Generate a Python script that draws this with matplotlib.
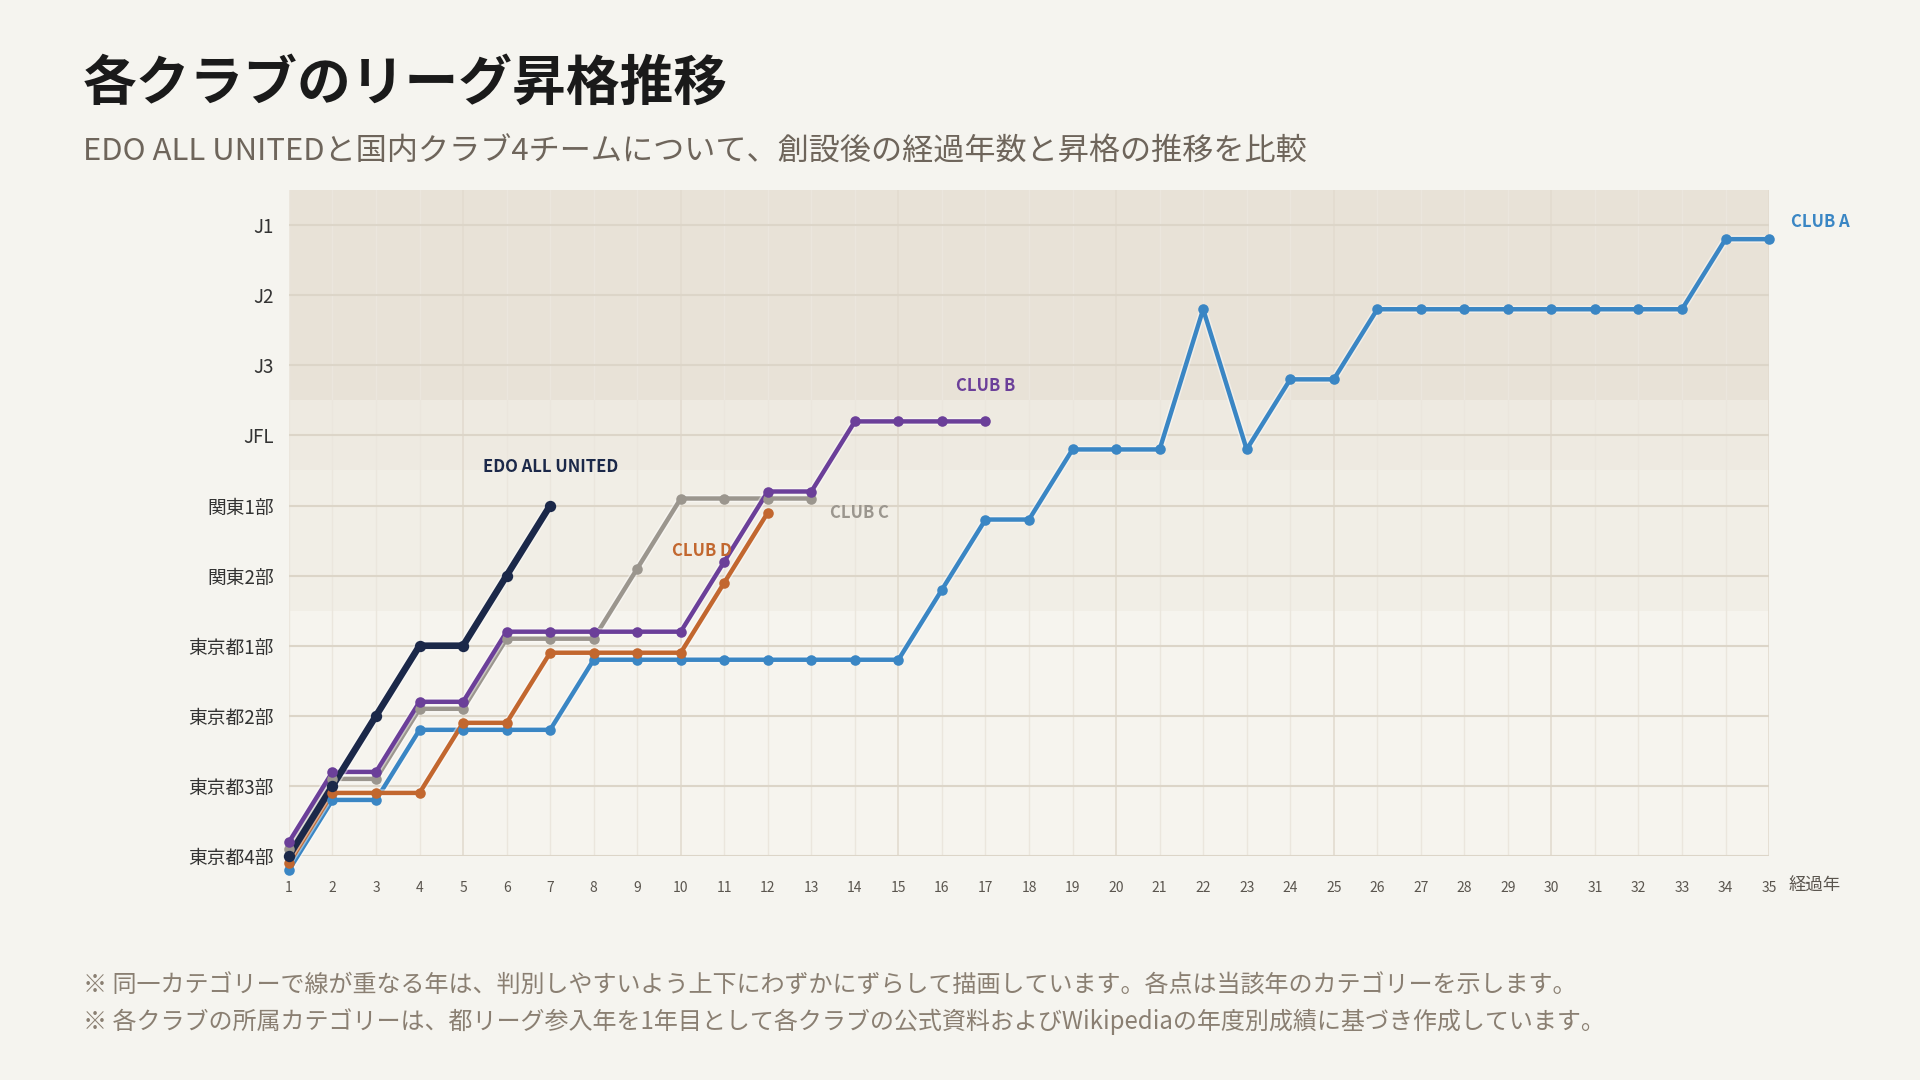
import matplotlib
matplotlib.use("Agg")
import matplotlib.pyplot as plt
import matplotlib.patheffects as pe
import numpy as np

plt.rcParams['font.family'] = ['Noto Sans CJK JP', 'DejaVu Sans']

# ---------------- data ----------------
level_labels = ["東京都4部", "東京都3部", "東京都2部", "東京都1部", "関東2部",
                "関東1部", "JFL", "J3", "J2", "J1"]
x_ticks = list(range(1, 36))

club_a = [0, 1, 1, 2, 2, 2, 2, 3, 3, 3, 3, 3, 3, 3, 3, 4, 5, 5, 6, 6, 6, 8, 6,
          7, 7, 8, 8, 8, 8, 8, 8, 8, 8, 9, 9]
club_b = [0, 1, 1, 2, 2, 3, 3, 3, 3, 3, 4, 5, 5, 6, 6, 6, 6]
club_c = [0, 1, 1, 2, 2, 3, 3, 3, 4, 5, 5, 5, 5]
club_d = [0, 1, 1, 1, 2, 2, 3, 3, 3, 3, 4, 5]
edo = [0, 1, 2, 3, 3, 4, 5]

series_names = ["CLUB A", "CLUB D", "CLUB C", "CLUB B", "EDO ALL UNITED"]
series_values = [club_a, club_d, club_c, club_b, edo]

# ---------------- styles ----------------
offsets = {"CLUB A": -0.2, "CLUB D": -0.1, "CLUB C": 0.1, "CLUB B": 0.2, "EDO ALL UNITED": 0.0}
colors = {"CLUB A": "#3a86c4", "CLUB D": "#c2672f", "CLUB C": "#9b968e",
          "CLUB B": "#6b3f99", "EDO ALL UNITED": "#1b2849"}
widths = {"CLUB A": 3.2, "CLUB D": 3.2, "CLUB C": 3.2, "CLUB B": 3.2, "EDO ALL UNITED": 4.8}
label_pos = {"CLUB A": (35.5, 9.05, "left"), "CLUB B": (17.0, 6.7, "center"),
             "CLUB C": (13.42, 4.9, "left"), "CLUB D": (10.49, 4.35, "center"),
             "EDO ALL UNITED": (7.0, 5.55, "center")}

bg = "#f5f4ef"
fig = plt.figure(figsize=(19.2, 10.8), dpi=100, facecolor=bg)
ax = fig.add_axes([0.1505, 0.2074, 0.7709, 0.6166])
ax.set_facecolor(bg)

# bands
ax.axhspan(0, 3.5, color="#f6f4ee", zorder=0, lw=0)
ax.axhspan(3.5, 5.5, color="#f1eee6", zorder=0, lw=0)
ax.axhspan(5.5, 6.5, color="#eeeae1", zorder=0, lw=0)
ax.axhspan(6.5, 9.5, color="#e8e2d7", zorder=0, lw=0)

# grid
for x in x_ticks:
    major = (x % 5 == 0)
    ax.axvline(x, color="#e2dbcf" if major else "#ebe6dd", lw=1.2 if major else 1.0, zorder=1)
for y in range(len(level_labels)):
    ax.axhline(y, color="#dcd5c8", lw=1.5, zorder=1)

for name, vals in zip(series_names, series_values):
    xs = np.arange(1, len(vals) + 1)
    ys = np.array(vals, dtype=float) + offsets[name]
    lw = widths[name]
    ax.plot(xs, ys, color=colors[name], lw=lw, zorder=3, clip_on=False,
            solid_joinstyle="round", solid_capstyle="round",
            path_effects=[pe.Stroke(linewidth=lw + 2.2, foreground="white", alpha=0.45), pe.Normal()])
    ax.plot(xs, ys, color=colors[name], lw=0, marker="o",
            markersize=7.6 if name != "EDO ALL UNITED" else 8.2,
            markeredgewidth=0, zorder=4, clip_on=False)
    lx, ly, ha = label_pos[name]
    ax.text(lx, ly, name, color=colors[name], fontsize=12, fontweight="bold",
            ha=ha, va="center", zorder=5)

ax.set_xlim(1, 35)
ax.set_ylim(0, 9.5)
ax.set_xticks(x_ticks)
ax.set_xticklabels([str(x) for x in x_ticks], fontsize=10, color="#5a554e")
ax.set_yticks(range(len(level_labels)))
ax.set_yticklabels(level_labels, fontsize=13.5, color="#333333")
ax.tick_params(axis="both", length=0)
ax.tick_params(axis="x", pad=18)
ax.tick_params(axis="y", pad=11)
for s in ax.spines.values():
    s.set_visible(False)

ax.text(35.45, -0.42, "経過年", fontsize=12.5, color="#5a554e", ha="left", va="center")

fig.text(0.0432, 0.922, "各クラブのリーグ昇格推移", fontsize=38.7, fontweight="bold",
         color="#1a1a1a", ha="left", va="center")
fig.text(0.0432, 0.859, "EDO ALL UNITEDと国内クラブ4チームについて、創設後の経過年数と昇格の推移を比較",
         fontsize=22.4, color="#6e655b", ha="left", va="center")
fig.text(0.0432, 0.087, "※ 同一カテゴリーで線が重なる年は、判別しやすいよう上下にわずかにずらして描画しています。各点は当該年のカテゴリーを示します。",
         fontsize=17.3, color="#8a7f72", ha="left", va="center")
fig.text(0.0432, 0.054, "※ 各クラブの所属カテゴリーは、都リーグ参入年を1年目として各クラブの公式資料およびWikipediaの年度別成績に基づき作成しています。",
         fontsize=17.3, color="#8a7f72", ha="left", va="center")

fig.savefig("out.png", dpi=100, facecolor=bg)
